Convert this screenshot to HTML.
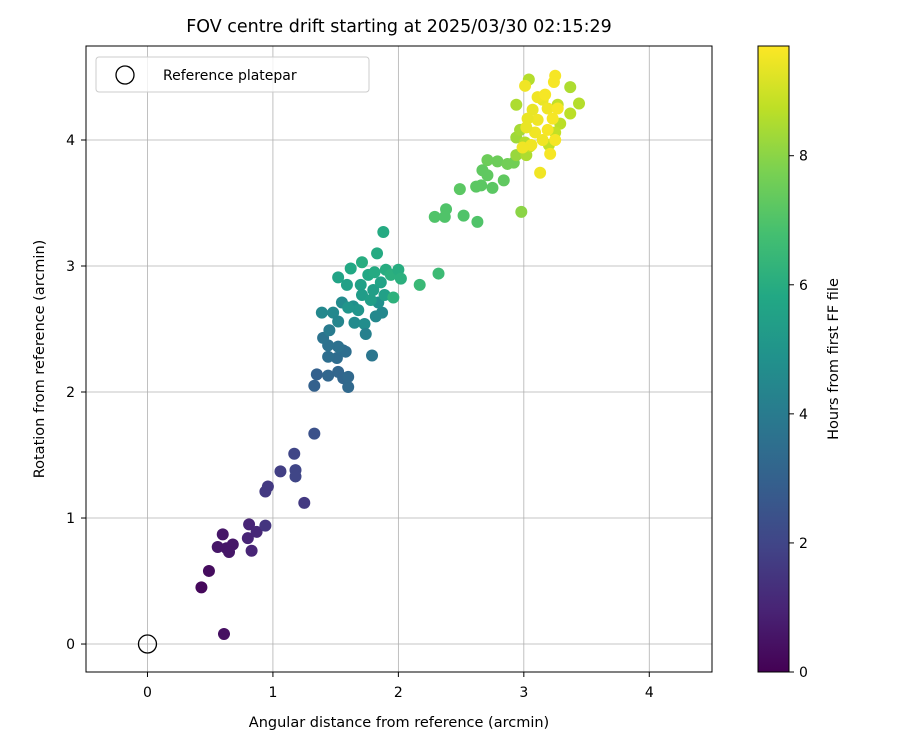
<!DOCTYPE html>
<html><head><meta charset="utf-8"><style>
body{margin:0;background:#fff;font-family:"Liberation Sans","DejaVu Sans",sans-serif}
svg text{font-family:"DejaVu Sans","Liberation Sans",sans-serif}
</style></head><body>
<svg id="c" width="900" height="750" xmlns="http://www.w3.org/2000/svg">
<defs><linearGradient id="vir" x1="0" y1="1" x2="0" y2="0">
<stop offset="0" stop-color="#440154"/><stop offset="0.1" stop-color="#482475"/><stop offset="0.2" stop-color="#414487"/><stop offset="0.3" stop-color="#355f8d"/><stop offset="0.4" stop-color="#2a788e"/><stop offset="0.5" stop-color="#21918c"/><stop offset="0.6" stop-color="#22a884"/><stop offset="0.7" stop-color="#44bf70"/><stop offset="0.8" stop-color="#7ad151"/><stop offset="0.9" stop-color="#bddf26"/><stop offset="1" stop-color="#fde725"/>
</linearGradient></defs>
<text x="399" y="32" font-size="17.5" text-anchor="middle">FOV centre drift starting at 2025/03/30 02:15:29</text>
<g id="grid"></g><g id="pts"></g>
<rect x="86" y="46" width="626" height="626" fill="none" stroke="#000" stroke-width="1"/>
<g id="ticks"></g>
<text x="399" y="727" font-size="14.5" text-anchor="middle">Angular distance from reference (arcmin)</text>
<text transform="translate(44,359) rotate(-90)" font-size="14.5" text-anchor="middle">Rotation from reference (arcmin)</text>
<g>
<rect x="96" y="57" width="273" height="35" rx="3" fill="#fff" fill-opacity="0.8" stroke="#ccc"/>
<circle cx="125" cy="75" r="9" fill="none" stroke="#000" stroke-width="1.3"/>
<text x="163" y="80" font-size="14">Reference platepar</text>
</g>
<rect x="758" y="46" width="31" height="626" fill="url(#vir)" stroke="#000"/>
<g id="cbt"></g>
<text transform="translate(838,359) rotate(-90)" font-size="14.5" text-anchor="middle">Hours from first FF file</text>
</svg>
<script>
const xs=[0.43,0.49,0.61,0.56,0.60,0.63,0.68,0.65,0.81,0.80,0.83,0.87,0.94,0.94,0.96,1.06,1.17,1.18,1.18,1.25,1.33,
1.33,1.35,1.44,1.52,1.56,1.60,1.60,1.51,1.44,1.56,1.58,1.52,1.44,1.40,1.45,1.39,1.48,1.52,1.55,1.64,1.65,1.73,1.79,1.74,1.82,1.87,1.84,1.89,1.80,1.70,1.59,1.52,1.62,1.71,1.83,1.88,1.76,1.81,1.90,1.94,2.00,2.02,1.96,1.68,1.60,1.71,1.78,1.86,
2.17,2.32,2.29,2.38,2.37,2.52,2.63,2.49,2.66,2.62,2.75,2.84,2.71,2.67,2.71,2.79,2.87,2.92,2.98,2.94,2.94,2.97,2.94,3.04,3.37,3.44,3.37,3.29,3.25,3.20,3.02,3.01,3.05,3.15,3.27,
3.01,3.25,3.24,3.13,3.21,3.07,3.15,3.19,3.11,3.03,3.23,3.27,3.09,3.15,3.02,3.19,3.11,3.17,3.06,3.25,2.99];
const ys=[0.45,0.58,0.08,0.77,0.87,0.76,0.79,0.73,0.95,0.84,0.74,0.89,0.94,1.21,1.25,1.37,1.51,1.38,1.33,1.12,1.67,
2.05,2.14,2.13,2.16,2.11,2.04,2.12,2.27,2.28,2.33,2.32,2.36,2.37,2.43,2.49,2.63,2.63,2.56,2.71,2.68,2.55,2.54,2.29,2.46,2.60,2.63,2.71,2.77,2.81,2.85,2.85,2.91,2.98,3.03,3.10,3.27,2.93,2.95,2.97,2.93,2.97,2.90,2.75,2.65,2.67,2.77,2.73,2.87,
2.85,2.94,3.39,3.45,3.39,3.40,3.35,3.61,3.64,3.63,3.62,3.68,3.72,3.76,3.84,3.83,3.81,3.82,3.43,3.88,4.02,4.08,4.28,4.48,4.42,4.29,4.21,4.13,4.06,3.96,3.88,3.98,3.95,4.32,4.28,
4.43,4.51,4.46,3.74,3.89,4.24,4.32,4.25,4.16,4.17,4.17,4.25,4.06,4.00,4.10,4.08,4.34,4.36,3.96,4.00,3.94];
const hs=[0.2,0.3,0.4,0.6,0.6,0.6,0.6,0.6,1.0,1.0,1.0,1.1,1.5,1.6,1.6,1.8,2.0,2.0,2.0,1.6,2.4,
3.0,3.0,3.2,3.2,3.2,3.3,3.3,3.4,3.5,3.5,3.5,3.6,3.6,3.7,4.0,4.5,4.5,4.4,4.6,4.8,4.6,4.7,3.8,4.2,4.5,4.5,4.8,5.5,5.4,5.5,5.5,5.6,5.8,6.0,5.9,5.9,5.8,5.9,6.0,6.1,6.0,6.1,6.2,5.0,5.0,5.3,5.4,5.6,
6.5,6.6,7.0,7.0,7.0,7.0,7.0,7.2,7.2,7.2,7.2,7.3,7.3,7.3,7.5,7.5,7.6,7.6,8.0,8.2,8.3,8.4,8.5,8.6,8.5,8.6,8.7,8.7,8.8,8.8,8.5,8.6,8.8,8.9,8.8,
9.5,9.6,9.6,9.5,9.6,9.4,9.4,9.5,9.5,9.4,9.6,9.6,9.5,9.5,9.4,9.6,9.5,9.6,9.5,9.6,9.5];
const xTicks=[0,1,2,3,4], yTicks=[0,1,2,3,4], cTicks=[0,2,4,6,8];
const X0=-0.49,X1=4.5,Y0=-0.222,Y1=4.746,CMAX=9.7;
const sx=v=>86+(v-X0)/(X1-X0)*626, sy=v=>672-(v-Y0)/(Y1-Y0)*626, sc=v=>672-v/CMAX*626;
const V=["#440154","#482475","#414487","#355f8d","#2a788e","#21918c","#22a884","#44bf70","#7ad151","#bddf26","#fde725"];
function hx(c){return [1,3,5].map(i=>parseInt(c.substr(i,2),16));}
function vir(t){t=Math.max(0,Math.min(1,t))*10;const i=Math.min(9,Math.floor(t)),f=t-i;const a=hx(V[i]),b=hx(V[i+1]);return "rgb("+a.map((v,k)=>Math.round(v+(b[k]-v)*f)).join(",")+")";}
const NS="http://www.w3.org/2000/svg";
function mk(p,tag,at){const e=document.createElementNS(NS,tag);for(const k in at)e.setAttribute(k,at[k]);document.getElementById(p).appendChild(e);return e;}
xTicks.forEach(t=>{
 const g=mk("grid","line",{x1:sx(t),x2:sx(t),y1:46,y2:672,stroke:"#b0b0b0","stroke-width":0.8});
 
 
 mk("ticks","line",{x1:sx(t),x2:sx(t),y1:672,y2:677,stroke:"#000"});
 const l=mk("ticks","text",{x:sx(t),y:697,"font-size":14,"text-anchor":"middle"});l.textContent=t;
 
 
});
yTicks.forEach(t=>{
 const g=mk("grid","line",{x1:86,x2:712,y1:sy(t),y2:sy(t),stroke:"#b0b0b0","stroke-width":0.8});
 
 
 mk("ticks","line",{x1:81,x2:86,y1:sy(t),y2:sy(t),stroke:"#000"});
 const l=mk("ticks","text",{x:75,y:sy(t)+5,"font-size":14,"text-anchor":"end"});l.textContent=t;
 
 
});
cTicks.forEach(t=>{
 mk("cbt","line",{x1:789,x2:794,y1:sc(t),y2:sc(t),stroke:"#000"});
 const l=mk("cbt","text",{x:799,y:sc(t)+5,"font-size":14});l.textContent=t;
 
 
});
xs.forEach((x,i)=>{
 const c=mk("pts","circle",{cx:sx(x),cy:sy(ys[i]),r:6,fill:vir(hs[i]/CMAX)});
 
 
});
const r=mk("pts","circle",{cx:sx(0),cy:sy(0),r:9,fill:"none",stroke:"#000","stroke-width":1.3});


</script>
</body></html>
